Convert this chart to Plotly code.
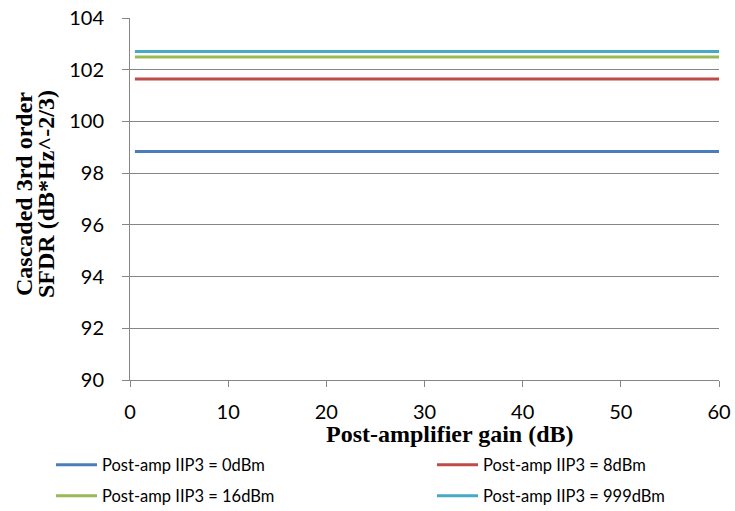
import plotly.graph_objects as go

gain_db = [0.5, 10, 20, 30, 40, 50, 60]
series_names = ["Post-amp IIP3 = 0dBm", "Post-amp IIP3 = 8dBm",
                "Post-amp IIP3 = 16dBm", "Post-amp IIP3 = 999dBm"]
sfdr_0dbm = [98.84] * 7
sfdr_8dbm = [101.64] * 7
sfdr_16dbm = [102.49] * 7
sfdr_999dbm = [102.70] * 7
colors = ["#4A7EBB", "#BE4B48", "#98B954", "#46AAC5"]
y_ticks = [90, 92, 94, 96, 98, 100, 102, 104]
x_ticks = [0, 10, 20, 30, 40, 50, 60]
x_title = "Post-amplifier gain (dB)"
y_title_lines = ["Cascaded 3rd order", "SFDR (dB*Hz^-2/3)"]

W, H = 735, 511
L, R, T, B = 130, 16, 18, 131
pw, ph = W - L - R, H - T - B


def px_x(p):
    return (p - L) / pw


def px_y(p):
    return (H - B - p) / ph


series = [sfdr_0dbm, sfdr_8dbm, sfdr_16dbm, sfdr_999dbm]
legend_ids = ["legend2", "legend3", "legend4", "legend5"]
# legend placement (pixel) : col1 / col2, row1 / row2
leg_pos = [(51, 465), (432, 465), (51, 496), (432, 496)]

tick_font = dict(family="Lato, Open Sans, sans-serif", size=20, color="#000")
title_font = dict(family="Liberation Serif, Times New Roman, serif", size=24, color="#000")
leg_font = dict(family="Lato, Open Sans, sans-serif", size=16.5, color="#000")

fig = go.Figure()
for name, vals, col, lg in zip(series_names, series, colors, legend_ids):
    fig.add_trace(go.Scatter(x=gain_db, y=vals, mode="lines", name=name,
                             line=dict(color=col, width=3), legend=lg))

layout_legends = {}
for lg, (lx, ly) in zip(legend_ids, leg_pos):
    layout_legends[lg] = dict(orientation="h", x=px_x(lx), y=px_y(ly),
                              xanchor="left", yanchor="middle", font=leg_font,
                              itemwidth=41, bgcolor="rgba(0,0,0,0)")

fig.update_layout(
    width=W, height=H,
    margin=dict(l=L, r=R, t=T, b=B, autoexpand=False),
    plot_bgcolor="white", paper_bgcolor="white",
    showlegend=True,
    xaxis=dict(range=[0, 60], tickvals=x_ticks, showgrid=False,
               showline=True, linecolor="#868686", linewidth=1,
               ticks="outside", ticklen=6, tickcolor="#868686",
               tickfont=tick_font, ticklabelstandoff=8, zeroline=False),
    yaxis=dict(range=[90, 104], tickvals=y_ticks, showgrid=True,
               gridcolor="#868686", gridwidth=1,
               showline=True, linecolor="#868686", linewidth=1,
               ticks="outside", ticklen=7, tickcolor="#868686",
               tickfont=tick_font, ticklabelstandoff=14, zeroline=False),
    **layout_legends,
)

fig.add_annotation(text="<b>" + x_title + "</b>", xref="paper", yref="paper",
                   x=px_x(450), y=px_y(434), xanchor="center", yanchor="middle",
                   showarrow=False, font=title_font)
for txt, cx in zip(y_title_lines, [24, 46]):
    fig.add_annotation(text="<b>" + txt + "</b>", xref="paper", yref="paper",
                       x=px_x(cx), y=px_y(194), xanchor="center", yanchor="middle",
                       textangle=-90, showarrow=False, font=title_font)

fig.write_html("out.html", config={"displayModeBar": False},
               post_script="document.body.style.margin='0';document.body.style.overflow='hidden';")
